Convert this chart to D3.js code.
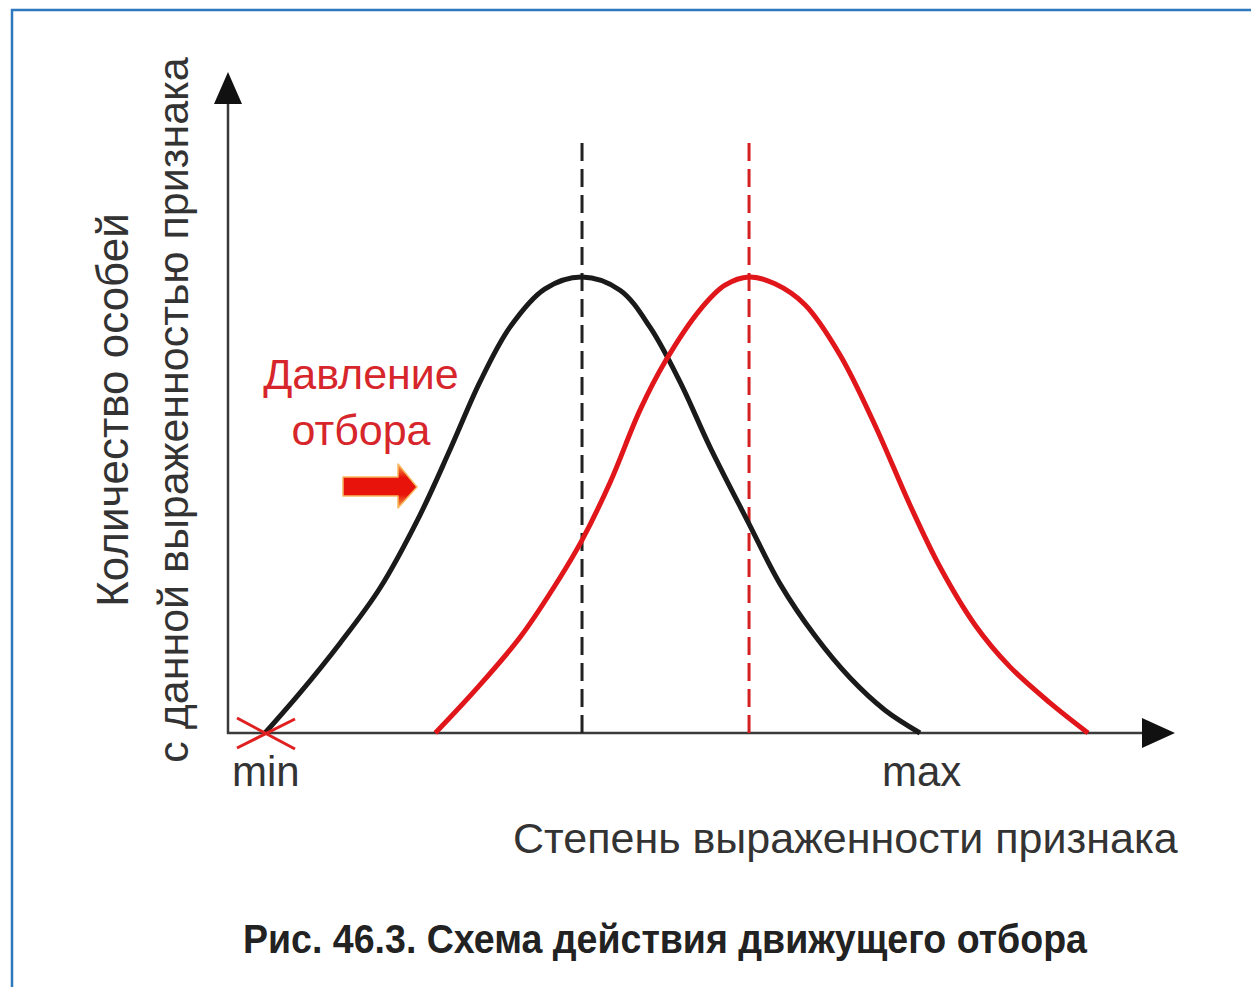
<!DOCTYPE html>
<html><head><meta charset="utf-8">
<script src="https://cdn.jsdelivr.net/npm/d3@7"></script>
<style>html,body{margin:0;padding:0;background:#fff;overflow:hidden}</style>
</head><body>
<svg id="c" width="1251" height="987"></svg>
<script>
// Trait expression (0 = min, 100 = max), number of individuals (0..100, peak = 100)
const blackX = [0, 5.34, 11.45, 17.56, 23.66, 28.24, 32.82, 37.40, 42.75, 48.40, 54.20, 58.78, 63.36, 67.94, 73.74, 78.63, 83.97, 89.31, 94.66, 100];
const blackY = [0, 8.8, 19.7, 31.8, 47.8, 62.1, 77.0, 89.0, 97.4, 100, 97.1, 89.0, 77.0, 62.7, 46.3, 32.7, 21.3, 12.1, 5.0, 0];
const redX = [26.0, 32.1, 39.0, 45.0, 48.4, 52.7, 57.25, 61.07, 66.41, 70.23, 73.89, 77.86, 82.44, 87.79, 93.13, 98.47, 103.05, 108.4, 113.74, 119.85, 125.65];
const redY = [0, 9.4, 21.1, 34.0, 42.3, 55.0, 70.8, 81.4, 92.8, 98.2, 100, 98.5, 93.9, 82.9, 67.5, 50.0, 36.4, 23.7, 14.5, 6.6, 0];
const means = [48.4, 73.9];
const tickLabels = ["min", "max"];
const tickValues = [0, 100];
const yLabel = ["Количество особей", "с данной выраженностью признака"];
const xLabel = "Степень выраженности признака";
const pressureLabel = ["Давление", "отбора"];
const caption = "Рис. 46.3. Схема действия движущего отбора";

const svg = d3.select("#c");
const x = d3.scaleLinear().domain([0, 100]).range([265, 920]);
const y = d3.scaleLinear().domain([0, 100]).range([733, 277]);
const x0 = 228, yBase = 733;

// frame
svg.append("rect").attr("x", 12).attr("y", 10).attr("width", 1260).attr("height", 1000)
  .attr("fill", "none").attr("stroke", "#2e78c0").attr("stroke-width", 2.5);

// axes
svg.append("line").attr("x1", x0).attr("x2", x0).attr("y1", yBase + 1).attr("y2", 100)
  .attr("stroke", "#3a3a3a").attr("stroke-width", 2.5);
svg.append("line").attr("x1", x0 - 1).attr("x2", 1145).attr("y1", yBase).attr("y2", yBase)
  .attr("stroke", "#3a3a3a").attr("stroke-width", 2.5);
svg.append("path").attr("d", `M${x0},72 L${x0 + 14},104 L${x0 - 14},104 Z`).attr("fill", "#111");
svg.append("path").attr("d", `M1175,${yBase} L1142,${yBase - 15} L1142,${yBase + 15} Z`).attr("fill", "#111");

// dashed means
const meanColors = ["#222", "#d42020"];
means.forEach((m, i) => {
  svg.append("line").attr("x1", x(m)).attr("x2", x(m)).attr("y1", 143).attr("y2", yBase)
    .attr("stroke", meanColors[i]).attr("stroke-width", 3).attr("stroke-dasharray", "18,8");
});

// curves
const line = d3.line().x(d => x(d[0])).y(d => y(d[1])).curve(d3.curveCatmullRom.alpha(0.5));
svg.append("path").attr("d", line(blackX.map((v, i) => [v, blackY[i]])))
  .attr("fill", "none").attr("stroke", "#1a1a1a").attr("stroke-width", 5);
svg.append("path").attr("d", line(redX.map((v, i) => [v, redY[i]])))
  .attr("fill", "none").attr("stroke", "#e0161b").attr("stroke-width", 5);

// red cross at min
const cx = x(0), cy = yBase;
svg.append("line").attr("x1", cx - 28).attr("y1", cy - 15).attr("x2", cx + 30).attr("y2", cy + 16)
  .attr("stroke", "#e02020").attr("stroke-width", 3);
svg.append("line").attr("x1", cx - 28).attr("y1", cy + 15).attr("x2", cx + 30).attr("y2", cy - 14)
  .attr("stroke", "#e02020").attr("stroke-width", 3);

const font = "'Liberation Sans', Arial, sans-serif";
// tick labels
const tickOffsets = [-33, -38];
tickLabels.forEach((t, i) => {
  svg.append("text").attr("x", x(tickValues[i]) + tickOffsets[i]).attr("y", 786)
    .attr("font-family", font).attr("font-size", 42).attr("fill", "#333").text(t);
});
// x label
svg.append("text").attr("x", 513).attr("y", 853).attr("font-family", font).attr("font-size", 43)
  .attr("fill", "#333").text(xLabel);
// y label
const ySizes = [44, 43];
yLabel.forEach((t, i) => {
  const bx = 128 + i * 60;
  svg.append("text").attr("transform", `translate(${bx},410) rotate(-90)`).attr("text-anchor", "middle")
    .attr("font-family", font).attr("font-size", ySizes[i]).attr("fill", "#333").text(t);
});
// pressure
pressureLabel.forEach((t, i) => {
  svg.append("text").attr("x", 361).attr("y", 389 + i * 56).attr("text-anchor", "middle")
    .attr("font-family", font).attr("font-size", 43).attr("fill", "#d7262b").text(t);
});
// arrow
const defs = svg.append("defs");
const g = defs.append("linearGradient").attr("id", "ag").attr("x1", 0).attr("x2", 0).attr("y1", 0).attr("y2", 1);
g.append("stop").attr("offset", "0%").attr("stop-color", "#f5a640");
g.append("stop").attr("offset", "30%").attr("stop-color", "#e8140c");
g.append("stop").attr("offset", "70%").attr("stop-color", "#e8140c");
g.append("stop").attr("offset", "100%").attr("stop-color", "#f5a640");
svg.append("path").attr("d", "M343,477 L398,477 L398,464 L417,487 L398,508 L398,496 L343,496 Z")
  .attr("fill", "url(#ag)").attr("stroke", "#f7b860").attr("stroke-width", 1.5).attr("stroke-linejoin", "round");

// caption
svg.append("text").attr("x", 243).attr("y", 953)
  .attr("font-family", "'Liberation Sans Narrow', 'Arial Narrow', 'Liberation Sans', sans-serif")
  .attr("font-weight", "bold").attr("font-size", 41).attr("fill", "#222")
  .attr("textLength", 844).attr("lengthAdjust", "spacingAndGlyphs").text(caption);
</script>
</body></html>
